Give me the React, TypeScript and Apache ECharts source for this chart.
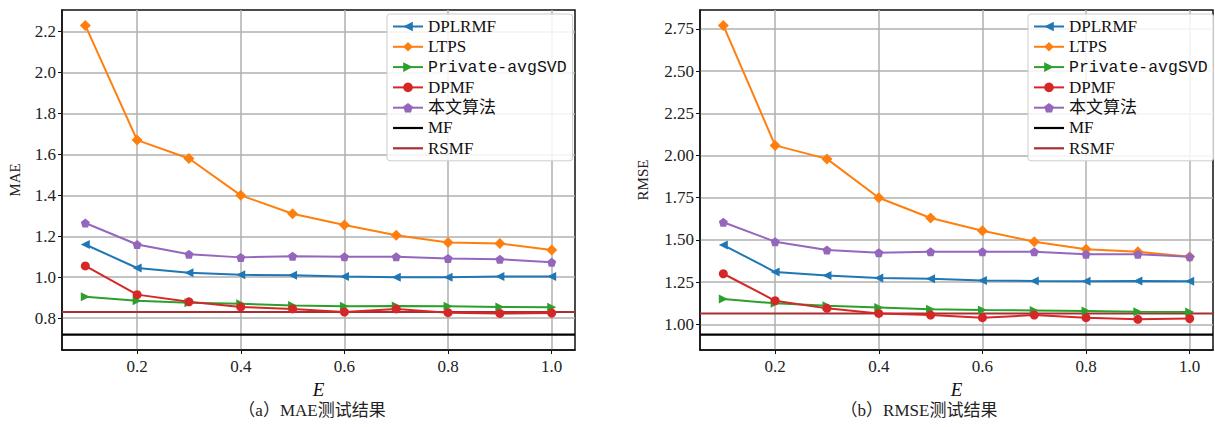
import React, { useEffect, useRef } from "react";
import * as echarts from "echarts";

const E_VALUES = [0.1, 0.2, 0.3, 0.4, 0.5, 0.6, 0.7, 0.8, 0.9, 1.0];
const X_TICKS = [0.2, 0.4, 0.6, 0.8, 1.0];
const X_MIN = 0.055;
const X_MAX = 1.045;

const SERIES_NAMES = ["DPLRMF", "LTPS", "Private-avgSVD", "DPMF", "本文算法", "MF", "RSMF"];

// MAE
const MAE_DPLRMF = [1.16, 1.045, 1.022, 1.012, 1.01, 1.003, 1.0, 1.0, 1.003, 1.003];
const MAE_LTPS = [2.23, 1.67, 1.58, 1.40, 1.31, 1.255, 1.205, 1.17, 1.165, 1.133];
const MAE_PRIVATE = [0.905, 0.885, 0.875, 0.87, 0.862, 0.858, 0.86, 0.858, 0.855, 0.853];
const MAE_DPMF = [1.055, 0.915, 0.88, 0.855, 0.845, 0.83, 0.845, 0.827, 0.823, 0.825];
const MAE_OURS = [1.265, 1.16, 1.112, 1.097, 1.103, 1.10, 1.10, 1.092, 1.088, 1.073];
const MAE_MF = 0.72;
const MAE_RSMF = 0.83;
const MAE_Y_TICKS = [0.8, 1.0, 1.2, 1.4, 1.6, 1.8, 2.0, 2.2];
const MAE_Y_MIN = 0.6445;
const MAE_Y_MAX = 2.3055;

// RMSE
const RMSE_DPLRMF = [1.47, 1.31, 1.29, 1.275, 1.27, 1.26, 1.257, 1.255, 1.257, 1.255];
const RMSE_LTPS = [2.77, 2.06, 1.98, 1.75, 1.63, 1.555, 1.49, 1.445, 1.43, 1.40];
const RMSE_PRIVATE = [1.15, 1.125, 1.11, 1.10, 1.09, 1.085, 1.083, 1.08, 1.075, 1.073];
const RMSE_DPMF = [1.30, 1.14, 1.095, 1.065, 1.055, 1.04, 1.055, 1.04, 1.03, 1.035];
const RMSE_OURS = [1.605, 1.49, 1.44, 1.425, 1.43, 1.43, 1.43, 1.415, 1.415, 1.40];
const RMSE_MF = 0.94;
const RMSE_RSMF = 1.065;
const RMSE_Y_TICKS = [1.0, 1.25, 1.5, 1.75, 2.0, 2.25, 2.5, 2.75];
const RMSE_Y_MIN = 0.8485;
const RMSE_Y_MAX = 2.8615;

const COLORS: Record<string, string> = {
  DPLRMF: "#1f77b4",
  LTPS: "#ff7f0e",
  "Private-avgSVD": "#2ca02c",
  DPMF: "#d62728",
  本文算法: "#9467bd",
  MF: "#000000",
  RSMF: "#a83030",
};

const SYMBOLS: Record<string, [string, number]> = {
  DPLRMF: ["path://M0,5L10,0L10,10Z", 9],
  LTPS: ["diamond", 11],
  "Private-avgSVD": ["path://M10,5L0,0L0,10Z", 9],
  DPMF: ["circle", 9],
  本文算法: ["path://M5,0L10,3.6L8.1,9.5L1.9,9.5L0,3.6Z", 9],
};

const LINE_ICON = "path://M0,0H30V2.2H0Z";

const SERIF = "'Liberation Serif', 'DejaVu Serif', 'Noto Sans CJK SC', serif";

function pairs(vals: number[]) {
  return E_VALUES.map((e, i) => [e, vals[i]]);
}

function buildSeries(idx: number, data: Record<string, number[]>, mf: number, rsmf: number) {
  const out: any[] = [];
  ["DPLRMF", "LTPS", "Private-avgSVD", "DPMF", "本文算法"].forEach((name) => {
    out.push({
      type: "line",
      name,
      xAxisIndex: idx,
      yAxisIndex: idx,
      data: pairs(data[name]),
      symbol: SYMBOLS[name][0],
      symbolSize: SYMBOLS[name][1],
      showAllSymbol: true,
      lineStyle: { color: COLORS[name], width: 2 },
      itemStyle: { color: COLORS[name] },
      z: 3,
    });
  });
  out.push({
    type: "line",
    name: "MF",
    xAxisIndex: idx,
    yAxisIndex: idx,
    data: [
      [X_MIN, mf],
      [X_MAX, mf],
    ],
    symbol: "none",
    lineStyle: { color: COLORS.MF, width: 2.2 },
    itemStyle: { color: COLORS.MF },
    z: 2,
  });
  out.push({
    type: "line",
    name: "RSMF",
    xAxisIndex: idx,
    yAxisIndex: idx,
    data: [
      [X_MIN, rsmf],
      [X_MAX, rsmf],
    ],
    symbol: "none",
    lineStyle: { color: COLORS.RSMF, width: 2 },
    itemStyle: { color: COLORS.RSMF },
    z: 2,
  });
  return out;
}

function xAxis(idx: number) {
  return {
    type: "value",
    gridIndex: idx,
    min: X_MIN,
    max: X_MAX,
    name: "E",
    nameLocation: "middle",
    nameGap: 26,
    nameTextStyle: { fontFamily: SERIF, fontStyle: "italic", fontSize: 19, color: "#111" },
    axisLine: { show: true, onZero: false, lineStyle: { color: "#111", width: 1.5 } },
    axisTick: { show: true, customValues: X_TICKS, length: 4, lineStyle: { color: "#111" } },
    axisLabel: {
      customValues: X_TICKS,
      formatter: (v: number) => v.toFixed(1),
      fontFamily: SERIF,
      fontSize: 17,
      color: "#222",
      margin: 8,
    },
    splitLine: { show: true, lineStyle: { color: "#b0b0b0", width: 1.5 } },
  };
}

function yAxis(idx: number, name: string, ticks: number[], min: number, max: number, digits: number, gap: number) {
  return {
    type: "value",
    gridIndex: idx,
    min,
    max,
    name,
    nameLocation: "middle",
    nameGap: gap,
    nameTextStyle: { fontFamily: SERIF, fontSize: 15, color: "#222" },
    axisLine: { show: true, onZero: false, lineStyle: { color: "#111", width: 1.5 } },
    axisTick: { show: true, customValues: ticks, length: 4, lineStyle: { color: "#111" } },
    axisLabel: {
      customValues: ticks,
      formatter: (v: number) => v.toFixed(digits),
      fontFamily: SERIF,
      fontSize: 17,
      color: "#222",
      margin: 6,
    },
    splitLine: { show: true, lineStyle: { color: "#b0b0b0", width: 1.5 } },
  };
}

function legend(left: number) {
  return {
    orient: "vertical",
    left,
    top: 14,
    data: SERIES_NAMES.map((n) =>
      n === "MF" || n === "RSMF" ? { name: n, icon: LINE_ICON } : { name: n }
    ),
    itemWidth: 30,
    itemHeight: 12,
    itemGap: 3.3,
    padding: [4, 6, 4, 5],
    backgroundColor: "rgba(255,255,255,0.85)",
    borderColor: "#cccccc",
    borderWidth: 1,
    borderRadius: 3,
    formatter: (n: string) => (n === "Private-avgSVD" ? "{m|" + n + "}" : n),
    textStyle: {
      fontFamily: SERIF,
      fontSize: 17,
      color: "#111",
      rich: { m: { fontFamily: "'Liberation Mono', 'DejaVu Sans Mono', monospace", fontSize: 16.5, color: "#111" } },
    },
    selectedMode: false,
  };
}

export default function App() {
  const ref = useRef<HTMLDivElement>(null);
  useEffect(() => {
    document.body.style.margin = "0";
    if (!ref.current) return;
    const chart = echarts.init(ref.current, undefined, { renderer: "svg" });
    const maeData: Record<string, number[]> = {
      DPLRMF: MAE_DPLRMF,
      LTPS: MAE_LTPS,
      "Private-avgSVD": MAE_PRIVATE,
      DPMF: MAE_DPMF,
      本文算法: MAE_OURS,
    };
    const rmseData: Record<string, number[]> = {
      DPLRMF: RMSE_DPLRMF,
      LTPS: RMSE_LTPS,
      "Private-avgSVD": RMSE_PRIVATE,
      DPMF: RMSE_DPMF,
      本文算法: RMSE_OURS,
    };
    chart.setOption({
      animation: false,
      backgroundColor: "#ffffff",
      grid: [
        { left: 62, top: 10, width: 513, height: 340, show: true, borderColor: "#111", borderWidth: 1.5, backgroundColor: "transparent" },
        { left: 700, top: 10, width: 513, height: 340, show: true, borderColor: "#111", borderWidth: 1.5, backgroundColor: "transparent" },
      ],
      xAxis: [xAxis(0), xAxis(1)],
      yAxis: [
        yAxis(0, "MAE", MAE_Y_TICKS, MAE_Y_MIN, MAE_Y_MAX, 1, 40),
        yAxis(1, "RMSE", RMSE_Y_TICKS, RMSE_Y_MIN, RMSE_Y_MAX, 2, 50),
      ],
      legend: [legend(387), legend(1028)],
      series: [
        ...buildSeries(0, maeData, MAE_MF, MAE_RSMF),
        ...buildSeries(1, rmseData, RMSE_MF, RMSE_RSMF),
      ],
      graphic: [
        {
          type: "text",
          x: 312,
          y: 410,
          style: { text: "（a）MAE测试结果", fontFamily: SERIF, fontSize: 17, fill: "#222", align: "center", verticalAlign: "middle" },
        },
        {
          type: "text",
          x: 919,
          y: 410,
          style: { text: "（b）RMSE测试结果", fontFamily: SERIF, fontSize: 17, fill: "#222", align: "center", verticalAlign: "middle" },
        },
      ],
    });
    return () => chart.dispose();
  }, []);
  return <div ref={ref} style={{ width: 1215, height: 427 }} />;
}
